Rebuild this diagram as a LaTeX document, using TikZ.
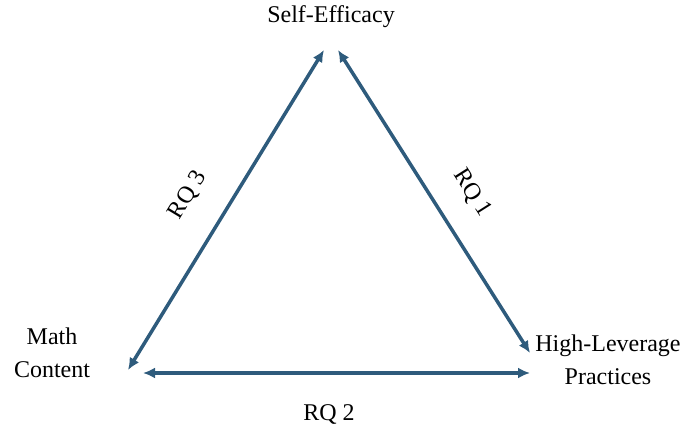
\documentclass[tikz,border=0pt]{standalone}
\usepackage{fontspec}
\setmainfont{Liberation Serif}
\usetikzlibrary{arrows.meta}
\definecolor{linkblue}{RGB}{46,91,124}
\tikzset{
  label/.style={inner sep=0pt, font=\fontsize{24}{33}\selectfont, align=center},
  link/.style={draw=linkblue, line width=3.5pt, {Latex[length=12pt,width=11pt]}-{Latex[length=12pt,width=11pt]}}
}
\begin{document}
\begin{tikzpicture}[x=1pt,y=1pt]
\useasboundingbox (0,0) rectangle (689,432);

\node[label] (efficacy) at (331,415) {Self-Efficacy};
\node[label] (content) at (52,79) {Math\\Content};
\node[label] (practices) at (608,72) {High-Leverage\\Practices};

\coordinate (leftlow) at (128,62);
\coordinate (lefttop) at (324,382);
\coordinate (righttop) at (338,382);
\coordinate (rightlow) at (530,79);
\coordinate (bottomleft) at (143,59);
\coordinate (bottomright) at (530,59);

\draw[link] (leftlow) -- (lefttop);
\draw[link] (righttop) -- (rightlow);
\draw[link] (bottomleft) -- (bottomright);

\node[label, rotate=59] (rqthree) at (188,237) {RQ 3};
\node[label, rotate=-57.6] (rqone) at (472,239) {RQ 1};
\node[label] (rqtwo) at (329,18) {RQ 2};
\end{tikzpicture}
\end{document}
